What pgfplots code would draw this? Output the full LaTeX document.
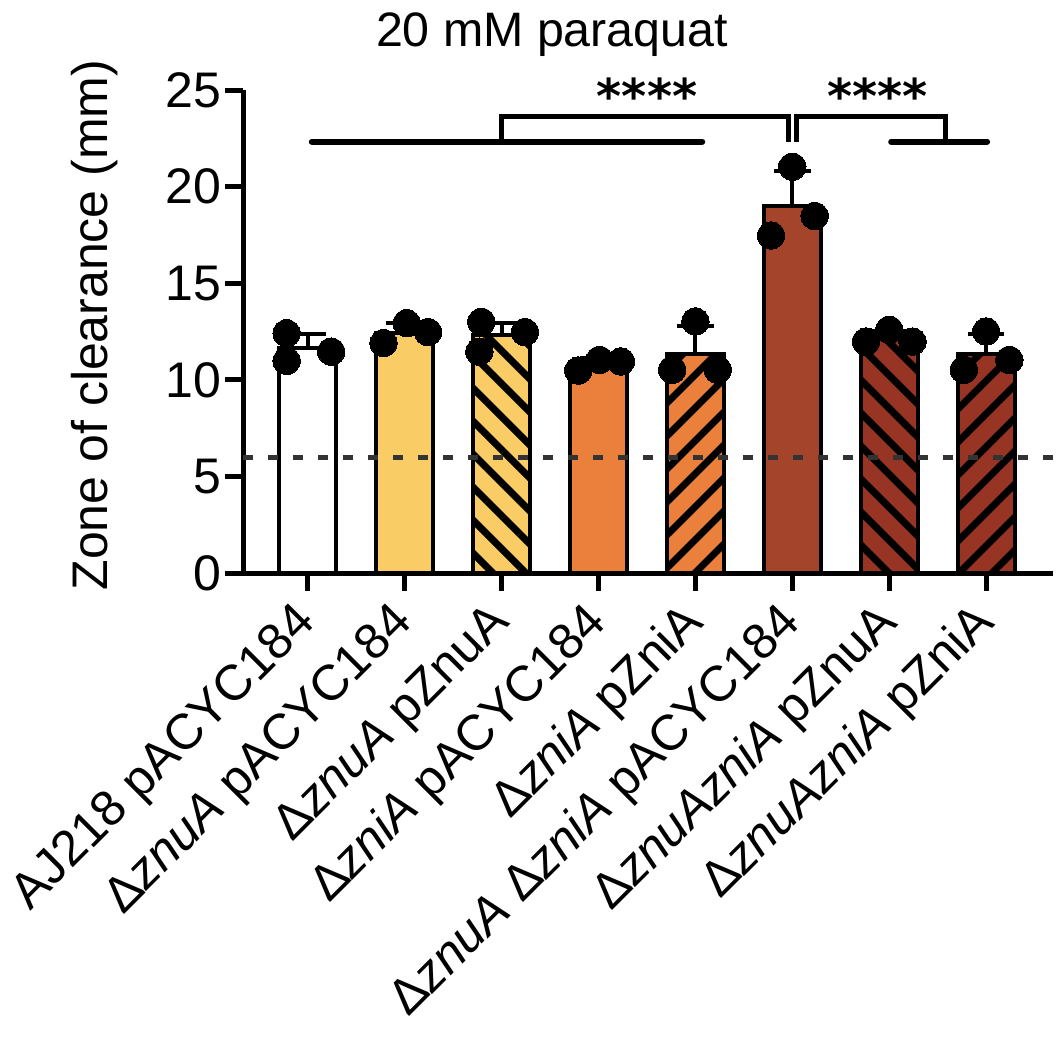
\documentclass[border=0pt]{standalone}
\usepackage{fontspec}
\setmainfont{Liberation Sans}
\newfontfamily\starfont{DejaVu Sans}
\usepackage{pgfplots}
\pgfplotsset{compat=1.18}
\usetikzlibrary{patterns.meta}
\definecolor{cyel}{HTML}{F9CC66}
\definecolor{corg}{HTML}{EB803C}
\definecolor{cred}{HTML}{A3442B}
\definecolor{cdk}{HTML}{973423}
\begin{document}
\begin{tikzpicture}
\useasboundingbox (0,0) rectangle (318.9pt,311.1pt);
\begin{axis}[
  at={(72.9pt,139.2pt)}, anchor=south west,
  scale only axis, width=243pt, height=144.9pt,
  xmin=-0.67, xmax=7.69, ymin=0, ymax=25,
  axis x line=bottom, axis y line=left,
  axis line style={-, line width=1.5pt, black},
  tick align=outside, major tick length=5.4pt,
  tick style={line width=1.5pt, black},
  ytick={0,5,10,15,20,25},
  xtick={0,1,2,3,4,5,6,7},
  xticklabels={AJ218 pACYC184, Δ\textit{znuA} pACYC184, Δ\textit{znuA} pZnuA, Δ\textit{zniA} pACYC184, Δ\textit{zniA} pZniA, Δ\textit{znuA} Δ\textit{zniA} pACYC184, Δ\textit{znuAzniA} pZnuA, Δ\textit{znuAzniA} pZniA},
  /pgf/number format/assume math mode=true,
  yticklabel style={font=\fontsize{15}{15}\selectfont, inner sep=0pt, xshift=-1pt},
  xticklabel style={font=\fontsize{15}{15}\selectfont, inner sep=0pt, xshift=0.3pt, yshift=-7.2pt, rotate=45, anchor=east},
  clip=false,
]
% bars
\addplot[ybar, bar width=0.59, bar shift=0pt, draw=black, line width=1.2pt, fill=white] coordinates {(0,11.63)};
\addplot[ybar, bar width=0.59, bar shift=0pt, draw=black, line width=1.2pt, fill=cyel] coordinates {(1,12.43)};
\addplot[ybar, bar width=0.59, bar shift=0pt, draw=black, line width=1.2pt, fill=cyel,
  postaction={pattern={Lines[angle=-45,distance=7pt,line width=2.1pt]}, pattern color=black}] coordinates {(2,12.31)};
\addplot[ybar, bar width=0.59, bar shift=0pt, draw=black, line width=1.2pt, fill=corg] coordinates {(3,10.82)};
\addplot[ybar, bar width=0.59, bar shift=0pt, draw=black, line width=1.2pt, fill=corg,
  postaction={pattern={Lines[angle=45,distance=7pt,line width=2.1pt]}, pattern color=black}] coordinates {(4,11.35)};
\addplot[ybar, bar width=0.59, bar shift=0pt, draw=black, line width=1.2pt, fill=cred] coordinates {(5,18.99)};
\addplot[ybar, bar width=0.59, bar shift=0pt, draw=black, line width=1.2pt, fill=cdk,
  postaction={pattern={Lines[angle=-45,distance=7pt,line width=2.1pt]}, pattern color=black}] coordinates {(6,12.18)};
\addplot[ybar, bar width=0.59, bar shift=0pt, draw=black, line width=1.2pt, fill=cdk,
  postaction={pattern={Lines[angle=45,distance=7pt,line width=2.1pt]}, pattern color=black}] coordinates {(7,11.35)};
% dashed threshold
\addplot[black!80, line width=1.5pt, dash pattern=on 3pt off 4.5pt] coordinates {(-0.67,6) (7.69,6)};
% error bars (upper SD)
\addplot[draw=none, mark=none, error bars/.cd, y dir=plus, y explicit,
  error bar style={draw=black, solid, line width=1.2pt},
  error mark options={draw=black, rotate=90, mark size=5.5pt, line width=1.2pt}]
  coordinates {(0,11.63) +- (0,0.73) (1,12.43) +- (0,0.52) (2,12.31) +- (0,0.65) (3,10.82) +- (0,0.30)
               (4,11.35) +- (0,1.43) (5,18.99) +- (0,1.83) (6,12.18) +- (0,0.35) (7,11.35) +- (0,1.03)};
% individual points
\addplot[only marks, mark=*, mark size=4.1pt, mark options={fill=black, draw=black, line width=0pt}]
  coordinates {
  (-0.22,12.41) (-0.22,10.98) (0.24,11.46)
  (0.78,11.90) (1.02,12.93) (1.24,12.47)
  (1.79,13.00) (1.77,11.46) (2.24,12.47)
  (2.79,10.48) (3.01,11.03) (3.23,10.95)
  (4.00,13.02) (3.76,10.52) (4.23,10.52)
  (5.00,21.03) (4.78,17.47) (5.23,18.48)
  (5.76,11.98) (6.00,12.59) (6.24,11.98)
  (7.00,12.50) (6.77,10.52) (7.24,11.03)
  };
% significance brackets
\addplot[black, line width=1.8pt, line cap=round] coordinates {(0.04,22.33) (4.07,22.33)};
\addplot[black, line width=1.8pt, line cap=round] coordinates {(6.02,22.33) (7.01,22.33)};
\addplot[black, line width=1.5pt] coordinates {(2.0,22.33) (2.0,23.62) (4.96,23.62) (4.96,22.33)};
\addplot[black, line width=1.5pt] coordinates {(5.04,22.33) (5.04,23.62) (6.58,23.62) (6.58,22.33)};
\node[anchor=base, font=\starfont\bfseries\fontsize{14.4}{14.4}\selectfont] at (axis cs:3.5,23.8) {****};
\node[anchor=base, font=\starfont\bfseries\fontsize{14.4}{14.4}\selectfont] at (axis cs:5.88,23.8) {****};
\end{axis}
\node[anchor=base, font=\fontsize{14.5}{14.5}\selectfont] at (165.6pt,297pt) {20 mM paraquat};
\node[anchor=base, rotate=90, font=\fontsize{15}{15}\selectfont] at (32.25pt,213.6pt) {Zone of clearance (mm)};
\end{tikzpicture}
\end{document}
